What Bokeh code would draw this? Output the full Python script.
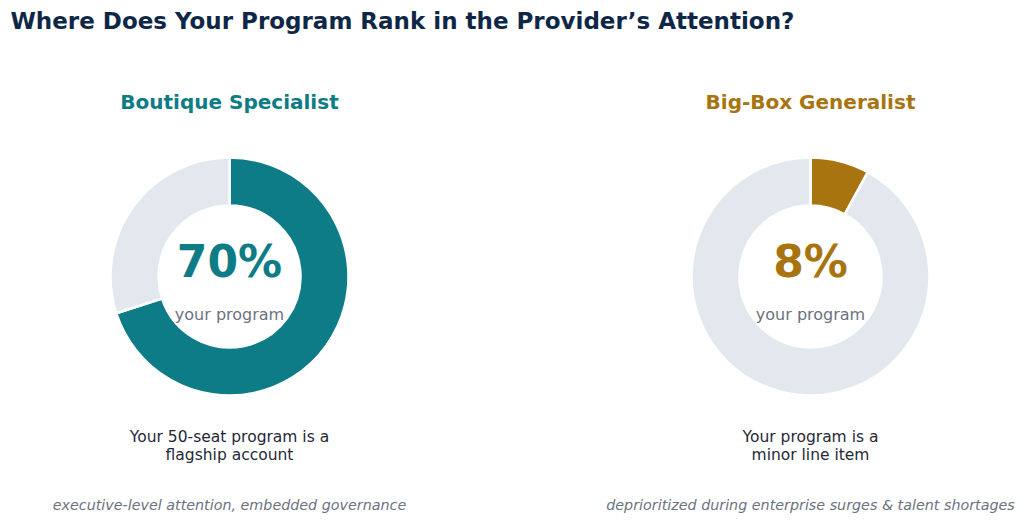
import numpy as np
from bokeh.plotting import figure
from bokeh.models import Range1d
from bokeh.core.properties import value
from bokeh.embed import file_html
from bokeh.resources import INLINE

# ---- data ----
providers = ["Boutique Specialist", "Big-Box Generalist"]
share_pct = [70, 8]
descriptions = ["Your 50-seat program is a\nflagship account", "Your program is a\nminor line item"]
footnotes = ["executive-level attention, embedded governance",
             "deprioritized during enterprise surges & talent shortages"]
title_text = "Where Does Your Program Rank in the Provider\u2019s Attention?"
center_label = "your program"

accent_colors = ["#0E7C86", "#A8740F"]
rest_color = "#E2E8ED"

W, H = 1024, 522
p = figure(width=W, height=H, output_backend="svg", toolbar_location=None,
           x_range=Range1d(0, W), y_range=Range1d(0, H), min_border=0)
p.axis.visible = False
p.grid.visible = False
p.outline_line_color = None
p.background_fill_color = "white"
p.border_fill_color = "white"

def Y(py):
    return H - py

FONT = value("DejaVu Sans")
cxs = [229, 810]
cy = 276
r_out, r_in = 119, 71

for cx, name, pct, col, desc, foot in zip(cxs, providers, share_pct, accent_colors, descriptions, footnotes):
    start = np.pi / 2
    end = start - 2 * np.pi * pct / 100.0
    p.annular_wedge(x=[cx], y=[Y(cy)], inner_radius=r_in, outer_radius=r_out,
                    start_angle=[end], end_angle=[start], direction="anticlock",
                    fill_color=col, line_color="white", line_width=2.5)
    p.annular_wedge(x=[cx], y=[Y(cy)], inner_radius=r_in, outer_radius=r_out,
                    start_angle=[start - 2 * np.pi], end_angle=[end], direction="anticlock",
                    fill_color=rest_color, line_color="white", line_width=2.5)
    p.text(x=[cx], y=[Y(101)], text=[name], text_font=FONT, text_font_style="bold",
           text_font_size="20px", text_color=col, text_align="center", text_baseline="middle")
    p.text(x=[cx], y=[Y(261)], text=[f"{pct}%"], text_font=FONT, text_font_style="bold",
           text_font_size="44px", text_color=col, text_align="center", text_baseline="middle")
    p.text(x=[cx], y=[Y(314)], text=[center_label], text_font=FONT,
           text_font_size="16px", text_color="#6B7280", text_align="center", text_baseline="middle")
    p.text(x=[cx], y=[Y(445)], text=[desc], text_font=FONT,
           text_font_size="15.5px", text_color="#1F2937", text_align="center", text_baseline="middle",
           text_line_height=1.0)
    p.text(x=[cx], y=[Y(504)], text=[foot], text_font=FONT, text_font_style="italic",
           text_font_size="14.3px", text_color="#6B7280", text_align="center", text_baseline="middle")

p.text(x=[10], y=[Y(20)], text=[title_text], text_font=FONT, text_font_style="bold",
       text_font_size="23px", text_color="#0F2747", text_align="left", text_baseline="middle")

open("out.html", "w").write(file_html(p, INLINE))
